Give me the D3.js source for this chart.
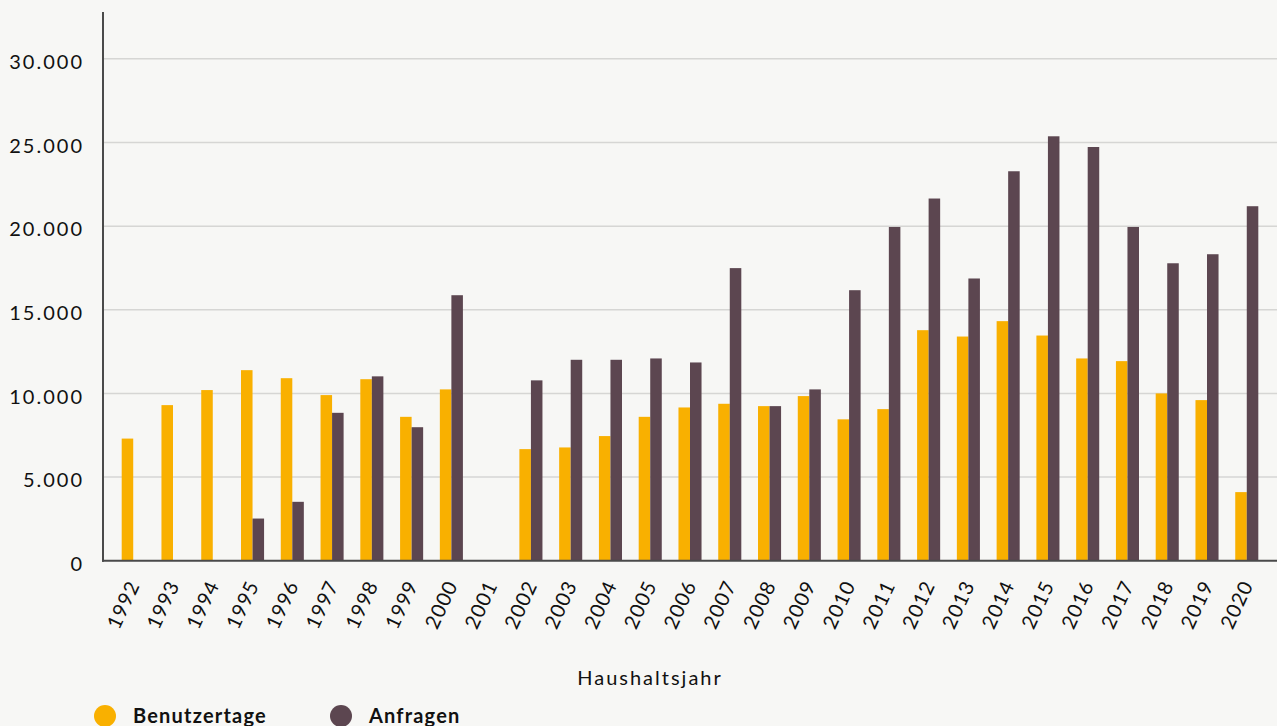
<!DOCTYPE html>
<html>
<head>
<meta charset="utf-8">
<script src="https://d3js.org/d3.v7.min.js"></script>
<style>
  body { margin: 0; background: #f7f7f5; }
  svg text { font-family: Lato, "Open Sans", sans-serif; fill: #111; }
</style>
</head>
<body>
<div id="chart"></div>
<script>

// data
var years = ["1992","1993","1994","1995","1996","1997","1998","1999","2000","2001",
             "2002","2003","2004","2005","2006","2007","2008","2009","2010","2011",
             "2012","2013","2014","2015","2016","2017","2018","2019","2020"];
var benutzertage = [7300, 9300, 10200, 11390, 10910, 9900, 10850, 8600, 10240, 0,
                    6670, 6770, 7450, 8600, 9160, 9380, 9240, 9840, 8450, 9060,
                    13780, 13400, 14320, 13460, 12090, 11930, 10000, 9600, 4100];
var anfragen = [0, 0, 0, 2520, 3520, 8840, 11020, 7980, 15870, 0,
                10780, 12010, 12010, 12090, 11850, 17490, 9240, 10240, 16170, 19950,
                21650, 16870, 23280, 25370, 24730, 19950, 17780, 18320, 21190];
var seriesNames = ["Benutzertage", "Anfragen"];
var yTicks = [0, 5000, 10000, 15000, 20000, 25000, 30000];

var width = 1277, height = 726;
var plotLeft = 103, plotRight = 1277, plotTop = 12, plotBottom = 560.7;

var color = d3.scaleOrdinal()
  .domain(seriesNames)
  .range(["#f9b000", "#5c4650"]);

var svg = d3.select("#chart")
  .append("svg")
    .attr("width", width)
    .attr("height", height)
    .style("display", "block");

svg.append("rect")
  .attr("width", width).attr("height", height)
  .attr("fill", "#f7f7f5");

// scales
var x = d3.scaleBand()
  .domain(years)
  .range([plotLeft, plotRight])
  .paddingInner(0.42)
  .paddingOuter(0.47);

var xSub = d3.scaleBand()
  .domain(seriesNames)
  .range([0, x.bandwidth()]);

var y = d3.scaleLinear()
  .domain([0, 32800])
  .range([plotBottom, plotTop]);

// gridlines
svg.append("g")
  .selectAll("line")
  .data(yTicks.filter(function(d) { return d > 0; }))
  .enter().append("line")
    .attr("x1", plotLeft)
    .attr("x2", plotRight)
    .attr("y1", function(d) { return y(d); })
    .attr("y2", function(d) { return y(d); })
    .attr("stroke", "#d6d6d4")
    .attr("stroke-width", 1.5);

// bars
var rows = years.map(function(yr, i) {
  return { year: yr, values: [
    { key: "Benutzertage", value: benutzertage[i] },
    { key: "Anfragen", value: anfragen[i] }
  ]};
});

svg.append("g")
  .selectAll("g")
  .data(rows)
  .enter().append("g")
    .attr("transform", function(d) { return "translate(" + x(d.year) + ",0)"; })
  .selectAll("rect")
  .data(function(d) { return d.values.filter(function(v) { return v.value > 0; }); })
  .enter().append("rect")
    .attr("x", function(d) { return xSub(d.key); })
    .attr("width", xSub.bandwidth())
    .attr("y", function(d) { return y(d.value); })
    .attr("height", function(d) { return plotBottom - y(d.value); })
    .attr("fill", function(d) { return color(d.key); });

// y axis
var yAxis = svg.append("g")
  .attr("transform", "translate(" + plotLeft + ",0)")
  .call(d3.axisLeft(y)
    .tickValues(yTicks)
    .tickSize(0)
    .tickPadding(19)
    .tickFormat(function(d) { return d3.format(",")(d).replace(/,/g, "."); }));
yAxis.select(".domain").remove();
yAxis.selectAll("text")
  .attr("font-size", "20px")
  .attr("letter-spacing", "2px")
  .attr("dy", "0.48em");

svg.append("line")
  .attr("x1", plotLeft).attr("x2", plotLeft)
  .attr("y1", plotTop).attr("y2", plotBottom + 1)
  .attr("stroke", "#4a4a4a")
  .attr("stroke-width", 2);

// x axis
var xAxis = svg.append("g")
  .attr("transform", "translate(0," + plotBottom + ")")
  .call(d3.axisBottom(x).tickSize(0).tickPadding(0));
xAxis.select(".domain").remove();
xAxis.selectAll("text")
  .attr("font-size", "20px")
  .attr("letter-spacing", "1px")
  .style("text-anchor", "end")
  .attr("transform", "translate(7,24) rotate(-65)")
  .attr("dy", "0")
  .attr("y", 0);

svg.append("line")
  .attr("x1", plotLeft - 1).attr("x2", plotRight)
  .attr("y1", plotBottom).attr("y2", plotBottom)
  .attr("stroke", "#4a4a4a")
  .attr("stroke-width", 2);

// axis title
svg.append("text")
  .attr("x", 650)
  .attr("y", 685)
  .attr("font-size", "20px")
  .attr("letter-spacing", "2px")
  .style("text-anchor", "middle")
  .text("Haushaltsjahr");

// legend
var legendX = [105, 341];
var legend = svg.selectAll(".legend")
  .data(seriesNames)
  .enter().append("g")
    .attr("class", "legend")
    .attr("transform", function(d, i) { return "translate(" + legendX[i] + ",716)"; });

legend.append("circle")
  .attr("r", 11)
  .attr("fill", function(d) { return color(d); });

legend.append("text")
  .attr("x", 28)
  .attr("y", 7)
  .attr("font-size", "20px")
  .attr("font-weight", "bold")
  .attr("letter-spacing", "1.2px")
  .text(function(d) { return d; });

</script>
</body>
</html>
